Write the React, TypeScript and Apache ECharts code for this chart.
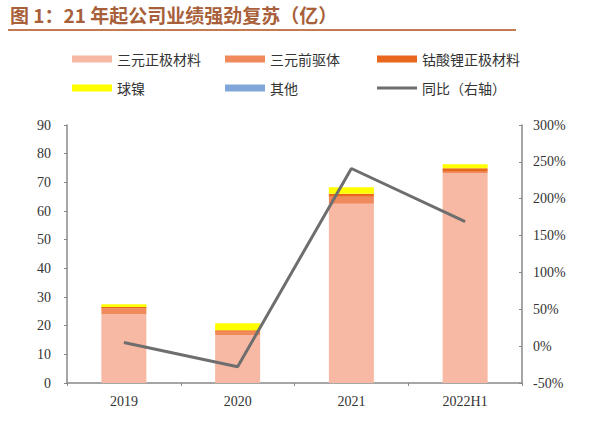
import React, { useEffect, useRef } from "react";
import * as echarts from "echarts";

const categories = ["2019", "2020", "2021", "2022H1"];
const ternaryCathode = [24.0, 16.7, 62.5, 73.2];
const ternaryPrecursor = [2.0, 1.2, 2.5, 0.5];
const lco = [0.5, 0.5, 1.0, 1.2];
const nickelBall = [1.0, 2.4, 2.3, 1.4];
const others = [0, 0, 0, 0];
const yoy = [5, -28, 241, 169];

const names = ["三元正极材料", "三元前驱体", "钴酸锂正极材料", "球镍", "其他", "同比（右轴）"];
const colors = ["#F7B9A3", "#F08A5D", "#E8661E", "#FFFF00", "#7FA7D9", "#6E6E6E"];

export default function App() {
  const ref = useRef<HTMLDivElement>(null);
  useEffect(() => {
    const chart = echarts.init(ref.current!, null, { renderer: "svg" });
    const legendPos = [
      [72, 52], [225, 52], [377, 52],
      [72, 81], [225, 81], [377, 81],
    ];
    const legends = names.map((n, i) => ({
      left: legendPos[i][0],
      top: legendPos[i][1],
      data: [n],
      itemWidth: 40,
      itemHeight: i === 5 ? 3 : 7,
      icon: "rect",
      itemGap: 5,
      textStyle: { fontFamily: "Noto Sans CJK SC", fontSize: 14, color: "#333" },
      padding: 0,
    }));
    const barSeries = [ternaryCathode, ternaryPrecursor, lco, nickelBall, others].map((d, i) => ({
      name: names[i],
      type: "bar",
      stack: "total",
      barWidth: 45,
      data: d,
      itemStyle: { color: colors[i] },
    }));
    const axisFont = { fontFamily: "Liberation Serif", fontSize: 14, color: "#333" };
    chart.setOption({
      animation: false,
      backgroundColor: "#fff",
      graphic: [
        {
          type: "text",
          left: 10,
          top: 5,
          style: {
            text: "图 1：21 年起公司业绩强劲复苏（亿）",
            fontFamily: "Noto Sans CJK SC",
            fontWeight: "bold",
            fontSize: 19,
            fill: "#A8603A",
          },
        },
        {
          type: "line",
          shape: { x1: 8, y1: 30, x2: 516, y2: 30 },
          style: { stroke: "#C47B52", lineWidth: 2 },
        },
      ],
      legend: legends,
      grid: { left: 67, right: 78, top: 125, bottom: 45 },
      xAxis: {
        type: "category",
        data: categories,
        axisLine: { lineStyle: { color: "#888", width: 1.5 } },
        axisTick: { show: true, length: 3, lineStyle: { color: "#888" } },
        axisLabel: { ...axisFont, margin: 11 },
      },
      yAxis: [
        {
          type: "value",
          min: 0,
          max: 90,
          interval: 10,
          splitLine: { show: false },
          axisLine: { show: true, lineStyle: { color: "#888", width: 1.5 } },
          axisTick: { show: true, length: 3, lineStyle: { color: "#888" } },
          axisLabel: { ...axisFont, margin: 16 },
        },
        {
          type: "value",
          min: -50,
          max: 300,
          interval: 50,
          splitLine: { show: false },
          axisLine: { show: true, lineStyle: { color: "#888", width: 1.5 } },
          axisTick: { show: true, inside: true, length: 3, lineStyle: { color: "#888" } },
          axisLabel: { ...axisFont, formatter: "{value}%", margin: 11 },
        },
      ],
      series: [
        ...barSeries,
        {
          name: names[5],
          type: "line",
          yAxisIndex: 1,
          data: yoy,
          symbol: "none",
          lineStyle: { color: colors[5], width: 3 },
          itemStyle: { color: colors[5] },
        },
      ],
    });
    return () => chart.dispose();
  }, []);
  return (
    <div
      ref={ref}
      style={{ position: "fixed", left: 0, top: 0, width: 600, height: 428 }}
    />
  );
}
